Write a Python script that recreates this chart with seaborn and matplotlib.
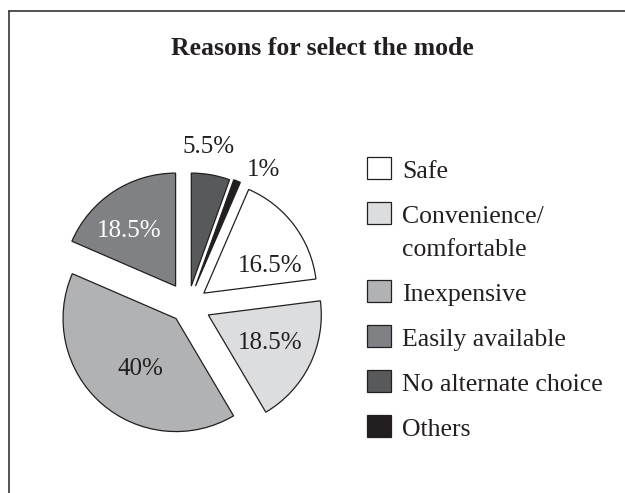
import matplotlib
matplotlib.use("Agg")
import matplotlib.pyplot as plt
from matplotlib.lines import Line2D
from matplotlib.patches import Rectangle
import seaborn as sns

# Survey shares (%) of reasons for choosing the travel mode
categories = ["Safe", "Convenience/\ncomfortable", "Inexpensive",
              "Easily available", "No alternate choice", "Others"]
shares = [16.5, 18.5, 40.0, 18.5, 5.5, 1.0]

# Styling
colors = ["#ffffff", "#dcdddf", "#b1b2b4", "#7f8184", "#58595b", "#231f20"]
explode = [0.175, 0.2, 0.16, 0.2, 0.17, 0.18]
label_colors = ["#231f20", "#231f20", "#231f20", "#ffffff", "#231f20", "#231f20"]
# label anchor (x, baseline y) in pie-radius units
label_pos = [(0.73, 0.29), (0.73, -0.39), (-0.42, -0.62),
             (-0.52, 0.60), (0.186, 1.345), (0.67, 1.14)]

sns.set_theme(style="white")
plt.rcParams["font.family"] = ["Liberation Serif", "DejaVu Serif"]
ink = "#231f20"

W, H, DPI = 625, 493, 100
fig = plt.figure(figsize=(W / DPI, H / DPI), dpi=DPI)
fig.patch.set_facecolor("white")

# pie axes: radius 113 px, centre at (188, 305) px from the top-left
R = 113
cx, cy = 188, 305
span = 1.6
ax = fig.add_axes([(cx - span * R) / W, (H - cy - span * R) / H,
                   2 * span * R / W, 2 * span * R / H])

total = sum(shares)
# the last two slices sit just clockwise of 12 o'clock
start = 90 - 360 * (shares[4] + shares[5]) / total

wedges, _ = ax.pie(shares, colors=colors, explode=explode, startangle=start,
                   counterclock=False, radius=1.0,
                   wedgeprops=dict(edgecolor=ink, linewidth=0.9))
ax.set_xlim(-span, span)
ax.set_ylim(-span, span)
ax.set_aspect("equal")
ax.axis("off")

for v, (lx, ly), tc in zip(shares, label_pos, label_colors):
    ax.text(lx, ly, f"{v:g}%", ha="center", va="baseline",
            fontsize=18, color=tc)

# title
fig.text(322 / W, 1 - 55 / H, "Reasons for select the mode",
         ha="center", va="baseline", fontsize=18.5, fontweight="bold",
         color=ink)

# legend: square swatches with labels, first line aligned to the swatch
sq_x, sq_w, sq_h = 367, 24, 22
text_x = 402
row_step, line_step = 45, 33
base = 178
for lab, col in zip(categories, colors):
    lines = lab.split("\n")
    fig.add_artist(Rectangle((sq_x / W, 1 - (base + 1) / H), sq_w / W, sq_h / H,
                             transform=fig.transFigure, facecolor=col,
                             edgecolor=ink, linewidth=0.9))
    b = base
    for ln in lines:
        fig.text(text_x / W, 1 - b / H, ln, ha="left", va="baseline",
                 fontsize=18.5, color=ink)
        b += line_step
    base = b - line_step + row_step

# frame: top and left rules
fig.add_artist(Line2D([9 / W, 1.0], [1 - 11 / H, 1 - 11 / H],
                      transform=fig.transFigure, color="#333333", linewidth=1.2))
fig.add_artist(Line2D([9 / W, 9 / W], [1 - 11 / H, 0.0],
                      transform=fig.transFigure, color="#333333", linewidth=1.2))

fig.savefig("out.png", dpi=DPI, facecolor="white")
